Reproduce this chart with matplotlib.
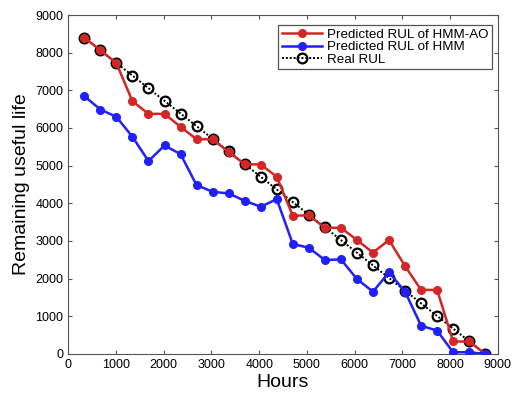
import matplotlib
matplotlib.use("Agg")
import matplotlib.pyplot as plt
import numpy as np

plt.rcParams['font.family'] = ['Liberation Sans', 'DejaVu Sans']

hours = [336 * (i + 1) for i in range(26)]
real_rul = [8400, 8064, 7728, 7392, 7056, 6720, 6384, 6048, 5712, 5376, 5040, 4704, 4368,
            4032, 3696, 3360, 3024, 2688, 2352, 2016, 1680, 1344, 1008, 672, 336, 0]
pred_hmm_ao = [8400, 8064, 7720, 6710, 6375, 6375, 6030, 5700, 5700, 5360, 5040, 5030, 4705,
               3670, 3680, 3350, 3350, 3025, 2690, 3025, 2335, 1700, 1700, 330, 330, 0]
pred_hmm = [6845, 6490, 6295, 5765, 5120, 5536, 5305, 4483, 4305, 4262, 4067, 3907, 4111,
            2918, 2820, 2493, 2511, 1989, 1653, 2167, 1653, 751, 618, 45, 45, 0]

fig = plt.figure(figsize=(5.14, 3.95), dpi=100)
ax = fig.add_axes([0.1329, 0.104, 0.8356, 0.858])

l1, = ax.plot(hours, pred_hmm_ao, '-o', color='#d42626', lw=1.8, ms=5.5,
              mec='#d42626', label='Predicted RUL of HMM-AO', zorder=3)
l2, = ax.plot(hours, pred_hmm, '-o', color='#1f1fff', lw=1.8, ms=5.5,
              mec='#1f1fff', label='Predicted RUL of HMM', zorder=3)
l3, = ax.plot(hours, real_rul, 'o', color='black', ls=(0, (1, 1)), lw=1.4, ms=7, mfc='none',
              mec='black', mew=1.6, label='Real RUL', zorder=2)

ax.set_xlim(0, 9000)
ax.set_ylim(0, 9000)
ax.set_xticks(np.arange(0, 9001, 1000))
ax.set_yticks(np.arange(0, 9001, 1000))
ax.tick_params(direction='in', top=True, right=True, labelsize=9, length=3, color='#555555')
for s in ax.spines.values():
    s.set_color('#555555')
ax.set_xlabel('Hours', fontsize=14, labelpad=2)
ax.set_ylabel('Remaining useful life', fontsize=14, labelpad=4)

leg = ax.legend(loc='upper right', bbox_to_anchor=(0.9566, 0.9367),
                bbox_transform=fig.transFigure, fontsize=9.6, fancybox=False,
                edgecolor='#555555', framealpha=1, handlelength=3.0,
                borderpad=0.25, labelspacing=0.02, handletextpad=0.4, borderaxespad=0)
leg.get_frame().set_linewidth(0.9)

fig.savefig('out.png', dpi=100)
